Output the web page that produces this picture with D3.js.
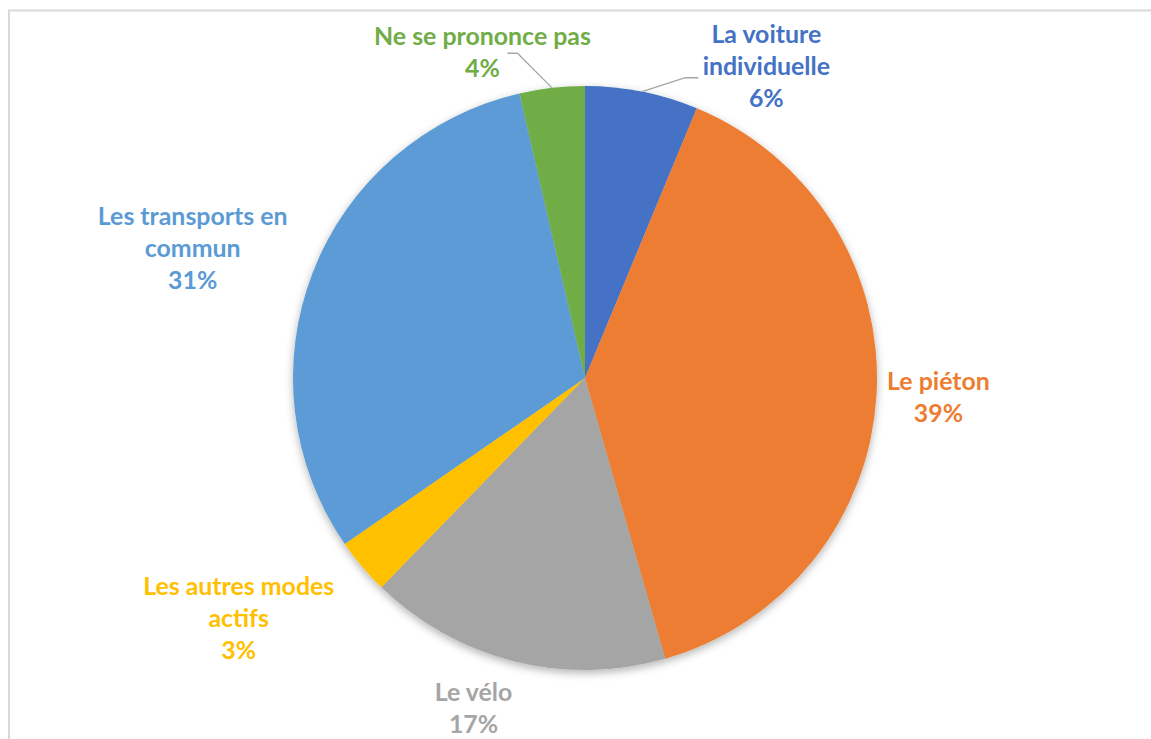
<!DOCTYPE html>
<html>
<head>
<meta charset="utf-8">
<script src="https://cdn.jsdelivr.net/npm/d3@7"></script>
<style>
  html, body { margin: 0; padding: 0; background: #fff; }
  svg { display: block; }
</style>
</head>
<body>
<svg id="chart"></svg>
<script>
// données
var categories = ["La voiture individuelle", "Le piéton", "Le vélo",
  "Les autres modes actifs", "Les transports en commun", "Ne se prononce pas"];
var values = [6.25, 39.3, 16.7, 3.1, 31.0, 3.6];
var pctLabels = ["6%", "39%", "17%", "3%", "31%", "4%"];
var labelLines = [["La voiture", "individuelle"], ["Le piéton"], ["Le vélo"],
  ["Les autres modes", "actifs"], ["Les transports en", "commun"], ["Ne se prononce pas"]];
var colors = ["#4472C4", "#ED7D31", "#A5A5A5", "#FFC000", "#5B9BD5", "#70AD47"];

// mise en page
var W = 1151, H = 739;
var cx = 585, cy = 378, R = 292, labelR = 350;
var lineH = 32;
// décalage des étiquettes par rapport au centroïde extérieur
var labelShift = [[113, 8], [4, -8], [-26, -16], [-79, -9], [-66, -26], [-63, 15]];
// lignes de rappel (fin relative à l'étiquette, longueur du coude)
var leaders = { 0: { end: [-68, 35], elbow: -13 }, 5: { end: [25, 8], elbow: 10 } };

var svg = d3.select("#chart").attr("width", W).attr("height", H);

var defs = svg.append("defs");
var f = defs.append("filter").attr("id", "shadow")
  .attr("x", "-10%").attr("y", "-10%").attr("width", "120%").attr("height", "120%");
f.append("feDropShadow").attr("dx", 0).attr("dy", 3).attr("stdDeviation", 4)
  .attr("flood-color", "#000").attr("flood-opacity", 0.3);

svg.append("rect")
  .attr("x", 9).attr("y", 10.5).attr("width", W + 20).attr("height", H + 20)
  .attr("fill", "none").attr("stroke", "#d9d9d9").attr("stroke-width", 2);

var pie = d3.pie().sort(null).value(function(d){ return d; });
var arcs = pie(values);
var arc = d3.arc().innerRadius(0).outerRadius(R);
var outer = d3.arc().innerRadius(labelR).outerRadius(labelR);
var edge = d3.arc().innerRadius(R).outerRadius(R);

var g = svg.append("g").attr("transform", "translate(" + cx + "," + cy + ")");

g.append("g").attr("filter", "url(#shadow)")
  .selectAll("path")
  .data(arcs)
  .enter()
  .append("path")
  .attr("d", arc)
  .attr("fill", function(d, i){ return colors[i]; });

// taille de police ajustée à la largeur de "Ne se prononce pas"
var fontFamily = "Lato, 'Noto Sans', sans-serif";
var probe = svg.append("text").attr("font-family", fontFamily).attr("font-weight", 700)
  .attr("font-size", 100).text("Ne se prononce pas");
var fontSize = 100 * 217 / probe.node().getComputedTextLength();
probe.remove();

arcs.forEach(function(d, i){
  var c = outer.centroid(d);
  var x = c[0] + labelShift[i][0];
  var y = c[1] + labelShift[i][1];
  var lines = labelLines[i].concat([pctLabels[i]]);
  var t = g.append("text")
    .attr("text-anchor", "middle")
    .attr("font-family", fontFamily)
    .attr("font-weight", 700)
    .attr("font-size", fontSize)
    .attr("fill", colors[i]);
  lines.forEach(function(s, k){
    t.append("tspan").attr("x", x).attr("y", y + k * lineH).text(s);
  });

  if (leaders[i]) {
    var p0 = edge.centroid(d);
    var end = [x + leaders[i].end[0], y + leaders[i].end[1]];
    var elbow = [end[0] + leaders[i].elbow, end[1]];
    g.append("path")
      .attr("d", d3.line()([p0, elbow, end]))
      .attr("fill", "none")
      .attr("stroke", "#a6a6a6")
      .attr("stroke-width", 1.3);
  }
});
</script>
</body>
</html>
